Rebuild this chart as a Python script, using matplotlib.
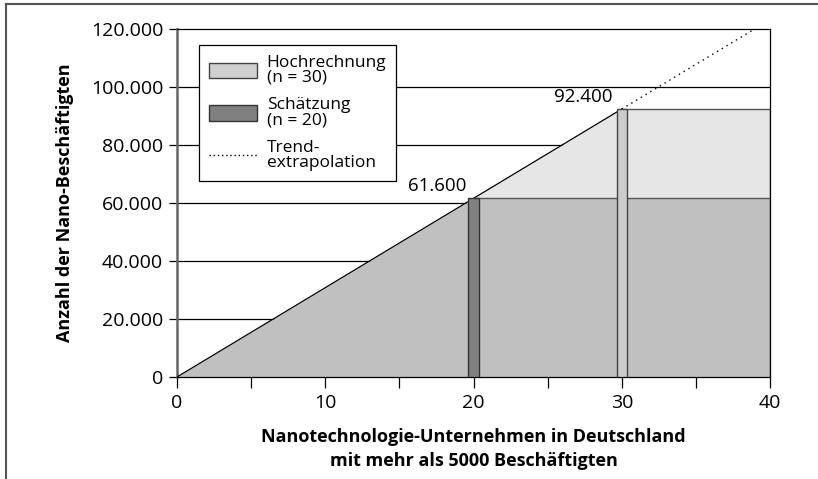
import matplotlib
matplotlib.use("Agg")
import matplotlib.pyplot as plt
from matplotlib.patches import Patch
from matplotlib.lines import Line2D
from matplotlib.ticker import FuncFormatter, MultipleLocator

plt.rcParams['font.family'] = ['Open Sans', 'DejaVu Sans']

# Data
n_schaetzung = 20
v_schaetzung = 61600
n_hochrechnung = 30
v_hochrechnung = 92400
x_max = 40
y_max = 120000
y_ticks = [0, 20000, 40000, 60000, 80000, 100000, 120000]
x_ticks = [0, 10, 20, 30, 40]
legend_labels = ["Hochrechnung\n(n = 30)", "Schätzung\n(n = 20)", "Trend-\nextrapolation"]
label_schaetzung = "61.600"
label_hochrechnung = "92.400"

W, H = 818, 479
fig = plt.figure(figsize=(W / 100, H / 100), dpi=100)
ax = fig.add_axes([177 / W, 1 - 377 / H, (770 - 177) / W, (377 - 29) / H])

ax.set_xlim(0, x_max)
ax.set_ylim(0, y_max)

# gridlines
for yt in y_ticks[1:-1]:
    ax.axhline(yt, color='black', lw=0.9, zorder=0.5)

dark_fill = '#c0c0c0'
light_fill = '#e6e6e6'
edge_gray = '#555555'

# lower region (grey)
ax.fill_between([0, n_schaetzung, x_max], [0, 0, 0],
                [0, v_schaetzung, v_schaetzung], color=dark_fill, lw=0, zorder=1)
# upper region (light)
ax.fill_between([n_schaetzung, n_hochrechnung, x_max],
                [v_schaetzung] * 3,
                [v_schaetzung, v_hochrechnung, v_hochrechnung],
                color=light_fill, lw=0, zorder=1)
# edges
ax.plot([n_schaetzung, x_max], [v_schaetzung, v_schaetzung], color=edge_gray, lw=1.0, zorder=2)
ax.plot([n_hochrechnung, x_max], [v_hochrechnung, v_hochrechnung], color=edge_gray, lw=1.0, zorder=2)
ax.plot([x_max, x_max], [0, v_hochrechnung], color=edge_gray, lw=1.0, zorder=2)

# trend line
ax.plot([0, n_hochrechnung], [0, v_hochrechnung], color='black', lw=0.9, zorder=3)
slope = v_hochrechnung / n_hochrechnung
x_end = y_max / slope
ax.plot([n_hochrechnung, x_end], [v_hochrechnung, y_max], color='black', lw=1.0,
        ls=(0, (1, 3)), zorder=3, clip_on=False)

# bars
ax.bar([n_schaetzung], [v_schaetzung], width=0.72, color='#808080',
       edgecolor='#333333', lw=1.0, zorder=4)
ax.bar([n_hochrechnung], [v_hochrechnung], width=0.7, color='#cccccc',
       edgecolor='#444444', lw=1.0, zorder=4)

# annotations
ax.text(n_schaetzung - 0.45, v_schaetzung + 1000, label_schaetzung, ha='right',
        va='bottom', fontsize=13.5, zorder=5)
ax.text(n_hochrechnung - 0.6, v_hochrechnung + 1000, label_hochrechnung, ha='right',
        va='bottom', fontsize=13.5, zorder=5)

# spines
ax.spines['left'].set_color('#666666')
ax.spines['left'].set_linewidth(1.8)
for s in ['top', 'right', 'bottom']:
    ax.spines[s].set_color('black')
    ax.spines[s].set_linewidth(0.9)
ax.spines['top'].set_bounds(0, x_max)

ax.set_xticks(x_ticks)
ax.xaxis.set_minor_locator(MultipleLocator(5))
ax.set_yticks(y_ticks)
ax.yaxis.set_major_formatter(FuncFormatter(lambda v, p: f"{int(v):,}".replace(",", ".")))
ax.tick_params(axis='x', which='both', direction='out', length=8, width=0.9,
               color='black', labelsize=14, pad=4)
ax.tick_params(axis='y', which='major', direction='out', length=6, width=0.9,
               color='black', labelsize=14, pad=4)

ax.set_xlabel("Nanotechnologie-Unternehmen in Deutschland\nmit mehr als 5000 Beschäftigten",
              fontsize=13, fontweight='bold', labelpad=12, linespacing=1.4)
ax.set_ylabel("Anzahl der Nano-Beschäftigten", fontsize=13, fontweight='bold', labelpad=12)

handles = [Patch(facecolor='#d0d0d0', edgecolor='#444444', lw=1.0),
           Patch(facecolor='#808080', edgecolor='#333333', lw=1.0),
           Line2D([0], [0], color='black', lw=1.0, ls=(0, (1, 2)))]
leg = ax.legend(handles, legend_labels, loc='upper left',
                bbox_to_anchor=((199 - 177) / (770 - 177), 1 - (45 - 29) / (377 - 29)),
                fontsize=12.5, frameon=True, fancybox=False, edgecolor='black',
                framealpha=1, handlelength=2.8, handleheight=1.0,
                borderpad=0.55, labelspacing=0.65, handletextpad=0.55,
                borderaxespad=0)
leg.get_frame().set_linewidth(0.9)
leg.set_zorder(6)
for t in leg.get_texts():
    t.set_linespacing(0.95)

# outer frame lines
fig.add_artist(Line2D([6 / W, 1], [1 - 4 / H, 1 - 4 / H], color='#555555', lw=1.5,
                      transform=fig.transFigure))
fig.add_artist(Line2D([6 / W, 6 / W], [0, 1 - 4 / H], color='#555555', lw=1.5,
                      transform=fig.transFigure))

fig.savefig("out.png", dpi=100)
